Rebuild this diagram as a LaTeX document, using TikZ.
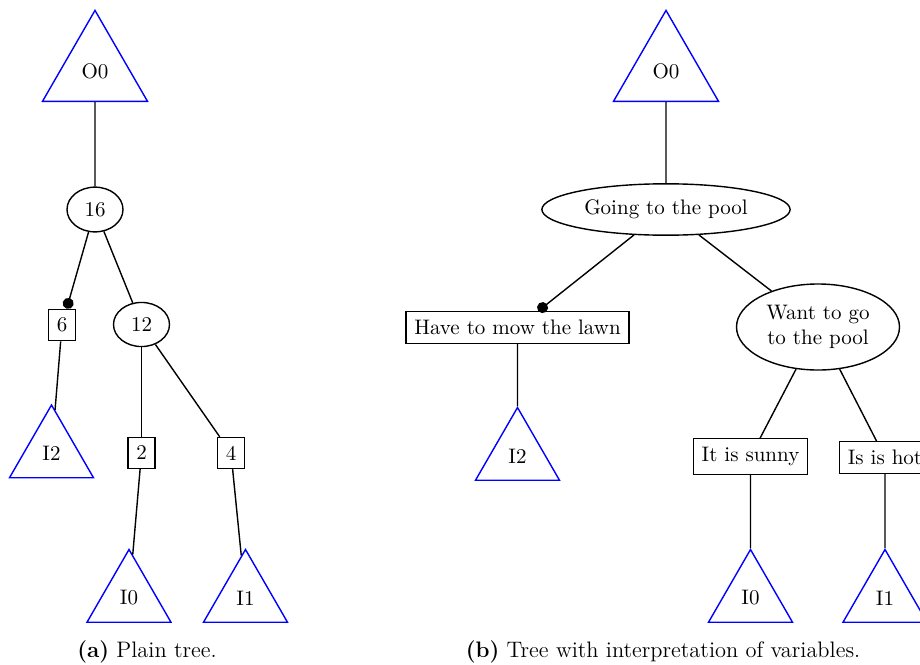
\documentclass[tikz,border=0pt]{standalone}
\usepackage{tikz}
\usetikzlibrary{shapes,arrows.meta}

\begin{document}
\begin{tikzpicture}[x=0.5pt, y=-0.5pt, font=\fontsize{10.5}{12.6}\selectfont, line width=0.7pt,
    leaf/.style={draw=blue, regular polygon, regular polygon sides=3, inner sep=0pt, minimum size=48.5pt},
    root/.style={leaf, minimum size=60.6pt},
    op/.style={draw, ellipse, inner xsep=3pt, inner ysep=4.3pt, minimum width=28pt, align=center},
    val/.style={draw, rectangle, inner sep=4.2pt},
    neg/.style={-{Circle[length=5.5pt]}},
    caption/.style={anchor=base, font=\fontsize{11.2}{13.4}\selectfont}]
        \useasboundingbox (0,0) rectangle (920,664);

        % Plain tree
        \node[root] (ao) at (95,71) {O0};
        \node[op] (a16) at (95,209.5) {16};
        \node[val] (a6) at (62,325) {6};
        \node[op] (a12) at (141.5,324.5) {12};
        \node[leaf] (ai2) at (51.5,453.5) {I2};
        \node[val] (a2) at (141.5,453) {2};
        \node[val] (a4) at (231,453) {4};
        \node[leaf] (ai0) at (129,598) {I0};
        \node[leaf] (ai1) at (245.5,598) {I1};

        \draw (ao) -- (a16);
        \draw[neg] (a16) -- (a6);
        \draw (a16) -- (a12);
        \draw (a6) -- (ai2);
        \draw (a12) -- (a2);
        \draw (a12) -- (a4);
        \draw (a2) -- (ai0);
        \draw (a4) -- (ai1);

        \node[caption] (capa) at (147,657) {\textbf{(a)} Plain tree.};

        % Same tree, variables spelled out
        \node[root] (bo) at (666,71) {O0};
        \node[op] (bpool) at (666,209.5) {Going to the pool};
        \node[val] (bmow) at (517.5,327.5) {Have to mow the lawn};
        \node[op] (bwant) at (818,327) {Want to go\\to the pool};
        \node[leaf] (bi2) at (517.5,456) {I2};
        \node[val] (bsun) at (750.5,456.5) {It is sunny};
        \node[val] (bhot) at (885,457.5) {Is is hot};
        \node[leaf] (bi0) at (750.5,598) {I0};
        \node[leaf] (bi1) at (885,598) {I1};

        \draw (bo) -- (bpool);
        \draw[neg] (bpool) -- (bmow);
        \draw (bpool) -- (bwant);
        \draw (bmow) -- (bi2);
        \draw (bwant) -- (bsun);
        \draw (bwant) -- (bhot);
        \draw (bsun) -- (bi0);
        \draw (bhot) -- (bi1);

        \node[caption] (capb) at (663,657) {\textbf{(b)} Tree with interpretation of variables.};
    \end{tikzpicture}
\end{document}
